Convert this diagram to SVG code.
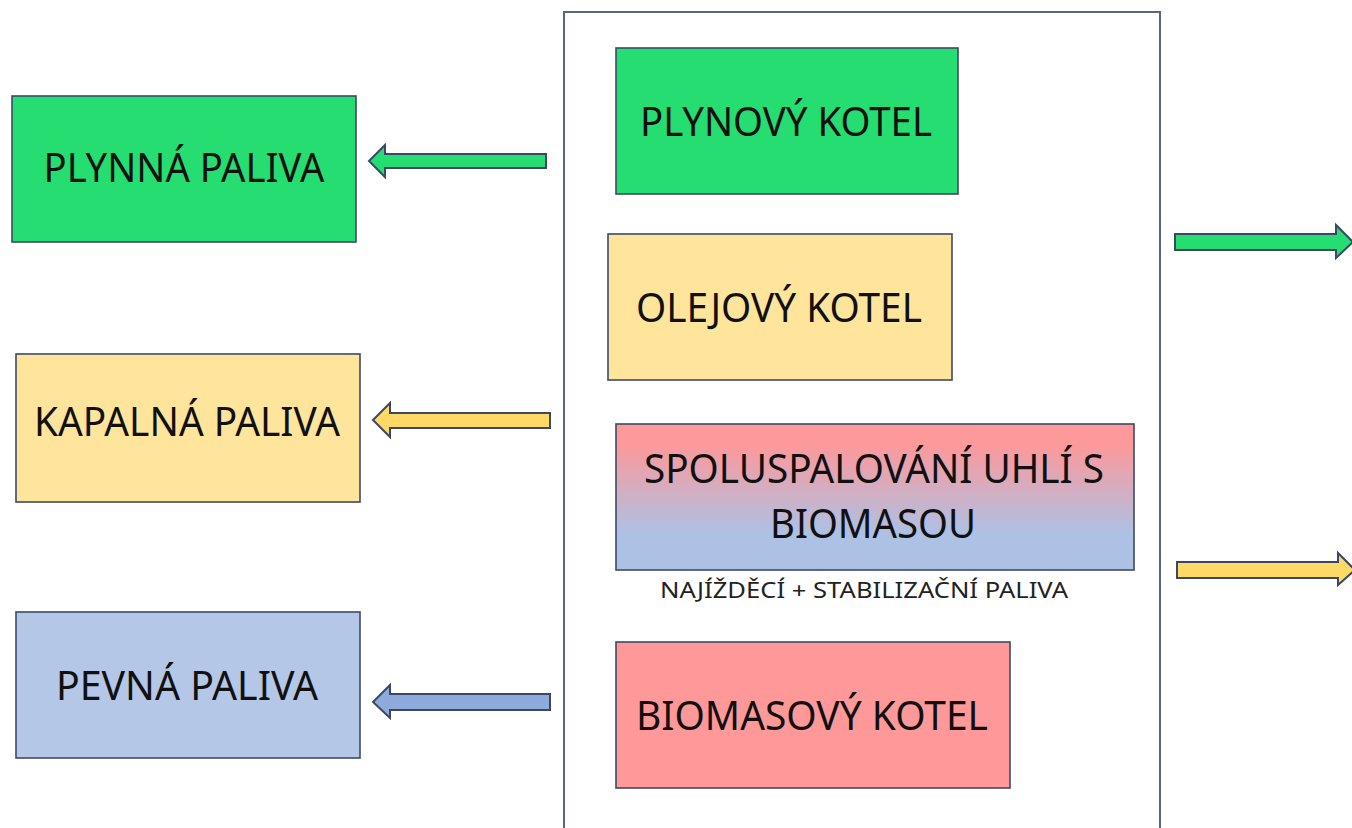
<svg xmlns="http://www.w3.org/2000/svg" width="1352" height="828" viewBox="0 0 1352 828">
<defs>
<linearGradient id="mix" x1="0" y1="0" x2="0" y2="1">
<stop offset="0" stop-color="#ff9999"/>
<stop offset="0.15" stop-color="#fb999c"/>
<stop offset="0.75" stop-color="#adc1e5"/>
<stop offset="1" stop-color="#adc1e5"/>
</linearGradient>
<style>
.box{stroke:#3c4a68;stroke-width:1.6}
.green{fill:#25dd70}
.yellow{fill:#fee59b}
.blue{fill:#b4c7e7}
.red{fill:#ff9999}
.t{font-family:"Noto Sans","Liberation Sans",sans-serif;font-size:40px;fill:#111;text-anchor:middle}
.s{font-family:"Noto Sans","Liberation Sans",sans-serif;font-size:22px;fill:#222;text-anchor:middle}
.arr{stroke:#3a4865;stroke-width:2;stroke-linejoin:miter}
</style>
</defs>
<rect width="1352" height="828" fill="#ffffff"/>
<g id="container">
<rect x="564" y="12" width="596" height="830" fill="none" stroke="#5a6580" stroke-width="2"/>
</g>
<g id="plynna">
<rect class="box green" x="12" y="96" width="344" height="146"/>
<text class="t" x="184" y="182" textLength="281" lengthAdjust="spacingAndGlyphs">PLYNNÁ PALIVA</text>
</g>
<g id="kapalna">
<rect class="box yellow" x="16" y="354" width="344" height="148"/>
<text class="t" x="187" y="436" textLength="306" lengthAdjust="spacingAndGlyphs">KAPALNÁ PALIVA</text>
</g>
<g id="pevna">
<rect class="box blue" x="16" y="612" width="344" height="146"/>
<text class="t" x="187" y="700" textLength="262" lengthAdjust="spacingAndGlyphs">PEVNÁ PALIVA</text>
</g>
<g id="plynovy">
<rect class="box green" x="616" y="48" width="342" height="146"/>
<text class="t" x="786" y="136" textLength="292" lengthAdjust="spacingAndGlyphs">PLYNOVÝ KOTEL</text>
</g>
<g id="olejovy">
<rect class="box yellow" x="608" y="234" width="344" height="146"/>
<text class="t" x="779" y="322" textLength="286" lengthAdjust="spacingAndGlyphs">OLEJOVÝ KOTEL</text>
</g>
<g id="spoluspalovani">
<rect class="box" fill="url(#mix)" x="616" y="424" width="518" height="146"/>
<text class="t" x="874" y="483" textLength="460" lengthAdjust="spacingAndGlyphs">SPOLUSPALOVÁNÍ UHLÍ S</text>
<text class="t" x="873" y="538" textLength="206" lengthAdjust="spacingAndGlyphs">BIOMASOU</text>
</g>
<g id="najizdeci">
<text class="s" x="864" y="598" textLength="408" lengthAdjust="spacingAndGlyphs">NAJÍŽDĚCÍ + STABILIZAČNÍ PALIVA</text>
</g>
<g id="biomasovy">
<rect class="box red" x="616" y="642" width="394" height="146"/>
<text class="t" x="812" y="730" textLength="352" lengthAdjust="spacingAndGlyphs">BIOMASOVÝ KOTEL</text>
</g>
<g id="connectors">
<polygon class="arr" fill="#25dd70" points="546,154 385,154 385,145 369,161 385,177 385,168 546,168"/>
<polygon class="arr" fill="#ffd966" points="550,413 390,413 390,403 373,420 390,437 390,428 550,428"/>
<polygon class="arr" fill="#8eaadc" points="550,694 390,694 390,685 373,702 390,718 390,710 550,710"/>
<polygon class="arr" fill="#25dd70" points="1175,234 1336,234 1336,225 1353,242 1336,258 1336,250 1175,250"/>
<polygon class="arr" fill="#ffd966" points="1177,562 1338,562 1338,553 1355,570 1338,585 1338,578 1177,578"/>
</g>
</svg>
